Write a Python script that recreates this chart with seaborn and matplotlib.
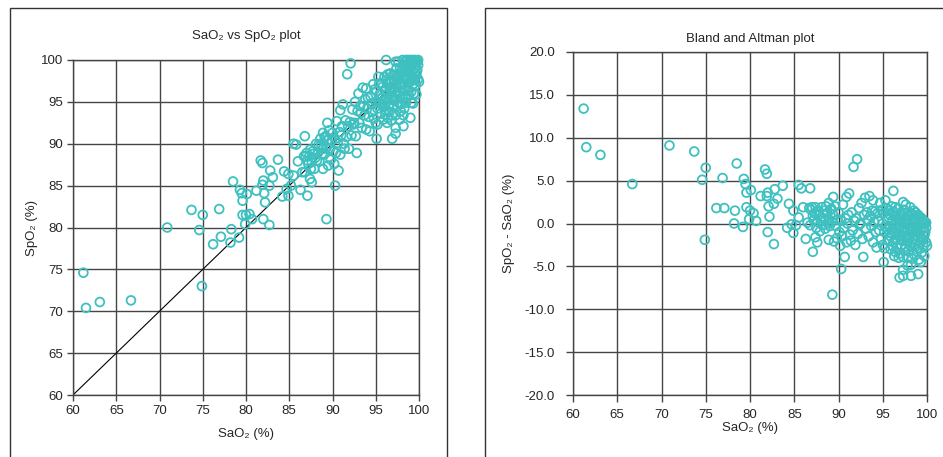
import pandas as pd
import numpy as np
import matplotlib.pyplot as plt
import seaborn as sns
from matplotlib.patches import Rectangle

# SaO2 readings (%) and the SpO2 - SaO2 difference
sao2 = [61.2, 61.5, 63.1, 66.7, 70.9, 73.7, 75.0, 74.6, 76.9, 74.9, 76.2, 77.1, 78.3, 78.2,
        78.5, 79.3, 79.5, 79.6, 80.1, 79.6, 80.0, 80.4, 79.9, 80.7, 79.2, 81.2, 81.7, 81.9,
        81.9, 82.0, 82.1, 82.2, 82.7, 82.0, 82.7, 82.8, 83.1, 83.7, 84.4, 84.2, 84.9, 84.9,
        85.2, 84.7, 85.5, 85.8, 86.8, 86.0, 85.5, 86.3, 87.1, 87.4, 87.6, 88.9, 89.4, 89.3,
        88.9, 90.2, 90.3, 90.7, 90.9, 91.2, 91.7, 92.1, 92.6, 92.8, 93.5, 93.9, 95.3, 96.2,
        95.1, 95.2, 96.3, 96.9, 97.3, 98.2, 99.0, 97.8, 98.3, 100.0, 99.7, 97.3,
        86.5, 86.7, 86.9, 86.8, 87.0, 87.1, 87.3, 87.2, 87.5, 87.4, 87.6, 87.8, 87.7, 87.9,
        88.0, 88.1, 88.2, 88.3, 88.4, 88.5, 88.6, 88.8, 88.7, 88.9, 89.0, 89.1, 89.2, 89.3,
        89.5, 89.4, 89.6, 89.7, 89.8, 89.9, 90.0, 90.1, 90.3, 90.4, 90.5, 90.6, 90.8, 90.9,
        91.0, 91.1, 91.3, 91.4, 91.5, 91.6, 91.8, 91.9, 92.0, 92.2, 92.3, 92.4, 92.5, 92.7,
        92.9, 93.0, 93.1, 93.2, 93.3, 93.4, 93.6, 93.7, 93.8, 93.9, 94.0, 94.1, 94.2, 94.3,
        94.4, 94.5, 94.6, 94.7, 94.8, 94.9, 95.0, 95.0, 95.1, 95.2, 95.4, 95.5, 95.5, 95.6,
        95.7, 95.8, 95.9, 95.9, 96.0, 96.1, 96.2, 96.2, 96.3, 96.4, 96.5, 96.5, 96.6, 96.7,
        96.7, 96.8, 96.8, 96.9, 97.0, 97.0, 97.1, 97.1, 97.2, 97.2, 97.3, 97.3, 97.4, 97.4,
        97.5, 97.5, 97.6, 97.6, 97.7, 97.7, 97.8, 97.8, 97.9, 97.9, 98.0, 98.0, 98.1, 98.1,
        98.2, 98.2, 98.3, 98.3, 98.4, 98.4, 98.5, 98.5, 98.6, 98.6, 98.7, 98.7, 98.8, 98.8,
        98.9, 98.9, 99.0, 99.0, 99.1, 99.1, 99.2, 99.2, 99.3, 99.3, 99.4, 99.4, 99.5, 99.5,
        99.6, 99.6, 99.7, 99.8, 99.8, 99.9, 99.9, 99.3,
        96.0, 96.3, 96.6, 96.9, 97.2, 97.5, 97.8, 98.1, 98.4, 98.7, 99.0, 99.3, 99.6, 99.9,
        96.4, 97.0, 97.6, 98.2, 98.8, 99.4, 95.7, 96.1, 96.8, 97.9, 98.5, 99.1, 99.7, 95.3,
        95.8, 96.5]
diff = [13.4, 8.9, 8.0, 4.6, 9.1, 8.4, 6.5, 5.1, 5.3, -1.9, 1.8, 1.8, 1.5, 0.0,
        7.0, 5.2, 4.6, 3.6, 3.9, 1.9, 1.5, 1.2, 0.5, 0.3, -0.4, 3.2, 6.3, 5.8,
        3.2, 3.6, 2.0, 0.8, 2.3, -1.0, -2.4, 4.0, 2.9, 4.4, 2.3, -0.5, 1.5, -1.1,
        -0.2, -0.1, 4.5, 4.1, 4.1, 1.9, 0.7, -1.8, -3.3, -1.6, -2.2, 2.4, 3.1, -8.3,
        -1.9, -2.6, -5.3, -3.9, 3.1, 3.5, 6.6, 7.5, 2.4, -3.9, 3.2, 2.7, 2.7, 3.8,
        -4.5, -2.9, -3.8, -6.3, -6.1, -6.1, -5.9, -4.9, -4.1, -2.6, 0.2, -5.4,
        0.1, 1.8, 1.6, -0.2, 1.9, 0.9, 1.2, 0.4, -0.5, 1.9, 0.2, 1.0, 1.4, -0.9,
        0.3, 1.9, -0.2, 0.6, 1.5, -0.6, 2.0, 0.0, 1.2, 0.5, -0.3, 1.6, 1.7, 0.2,
        -2.1, 1.0, 2.0, -0.3, -1.7, 0.5, 1.3, -1.0, 0.3, -1.5, 2.2, -0.5, 0.6, -2.2,
        0.0, 1.0, -1.3, -2.0, 1.3, -0.8, 0.3, -2.5, 0.6, -1.2, 1.8, -0.1, 0.0, -1.8,
        1.0, 3.0, -0.6, 1.3, 0.4, -1.5, 0.9, -0.3, 1.5, -2.2, 0.2, 1.4, -1.0, -2.8,
        1.2, 0.3, -0.8, 2.4, -1.8, 1.6, 0.0, -2.5, 1.2, -1.0, 1.8, -0.7, 0.5, -2.0,
        -0.3, 1.0, -3.0, -1.5, 2.0, 0.4, -2.2, 1.4, -0.9, -3.3, 0.9, -1.2, -2.8, 1.7,
        -0.2, -0.6, 0.5, -3.5, -1.8, 1.2, 0.2, -2.5, 1.0, -1.0, 2.5, -3.9, -0.4, 1.6,
        -1.5, -3.0, 0.6, 2.2, 0.0, -2.0, 1.2, -0.8, -4.0, -3.2, 0.8, -1.3, 1.9, -2.6,
        -0.3, -4.8, -0.6, 1.0, -1.9, 0.4, -3.6, 1.5, 0.2, -1.0, 1.3, -2.4, -3.0, -0.3,
        -0.8, 0.9, -1.6, 1.0, -2.9, -4.2, 0.5, -1.2, 0.7, -2.2, -0.4, -3.4, 0.5, -1.8,
        -0.6, -2.6, -3.8, 0.0, -1.0, -0.5, -2.2, -4.5,
        -0.8, 0.9, 0.1, -1.4, -2.0, 0.3, -1.6, -0.9, -2.7, 0.6, -0.2, -1.7, 0.3, 0.1,
        1.9, -0.3, -2.7, 1.2, -1.5, 0.2, 1.5, -2.6, -4.0, 0.5, -0.5, 0.3, -1.4, -0.4,
        -1.1, -1.9]

pct_ticks = [60, 65, 70, 75, 80, 85, 90, 95, 100]
diff_ticks = [-20, -15, -10, -5, 0, 5, 10, 15, 20]

df = pd.DataFrame({'SaO2': sao2, 'diff': diff})
df['SpO2'] = (df['SaO2'] + df['diff']).round(1)

sns.set_style('white')
plt.rcParams['font.family'] = ['Liberation Sans', 'DejaVu Sans']

teal = '#3ec0c0'
grid_c = '#454545'

fig = plt.figure(figsize=(9.43, 4.57), dpi=100)

# outer chart frames
fig.patches.append(Rectangle((10 / 943, -0.05), 437 / 943, 1.05 - 8 / 457, transform=fig.transFigure,
                             fill=False, ec='#333333', lw=1.0))
fig.patches.append(Rectangle((485 / 943, -0.05), 0.6, 1.05 - 8 / 457, transform=fig.transFigure,
                             fill=False, ec='#333333', lw=1.0))

ax1 = fig.add_axes([73 / 943, 1 - 395 / 457, 346 / 943, 335 / 457])
ax2 = fig.add_axes([573 / 943, 1 - 395 / 457, 354 / 943, 343 / 457])

for ax in (ax1, ax2):
    ax.grid(True, color=grid_c, lw=1.0)
    ax.set_axisbelow(True)
    for s in ax.spines.values():
        s.set_color(grid_c)
        s.set_linewidth(1.0)

marker_kw = dict(marker='o', s=40, facecolor='none', edgecolor=teal, linewidth=1.3,
                 zorder=3, clip_on=False)

# left: SaO2 vs SpO2 with line of identity
ax1.plot([pct_ticks[0], pct_ticks[-1]], [pct_ticks[0], pct_ticks[-1]], color='black', lw=0.8, zorder=1)
sns.scatterplot(data=df, x='SaO2', y='SpO2', ax=ax1, **marker_kw)
ax1.set_xlim(60, 100)
ax1.set_ylim(60, 100)
ax1.set_xticks(pct_ticks)
ax1.set_yticks(pct_ticks)
ax1.tick_params(axis='both', direction='out', length=4, width=1, color=grid_c,
                labelsize=9.5, pad=3, left=True, bottom=True)
ax1.set_title('SaO\u2082 vs SpO\u2082 plot', fontsize=9.5, pad=15)
ax1.set_xlabel('SaO\u2082 (%)', fontsize=9.5, labelpad=8)
ax1.set_ylabel('SpO\u2082 (%)', fontsize=9.5, labelpad=2)

# right: Bland and Altman
sns.scatterplot(data=df, x='SaO2', y='diff', ax=ax2, **marker_kw)
ax2.set_xlim(60, 100)
ax2.set_ylim(-20, 20)
ax2.set_xticks(pct_ticks)
ax2.set_yticks(diff_ticks)
ax2.set_yticklabels([f'{v:.1f}' for v in diff_ticks])
ax2.tick_params(axis='both', direction='out', length=5, width=1, color=grid_c,
                labelsize=9.5, left=True, bottom=True)
ax2.tick_params(axis='y', pad=8)
ax2.tick_params(axis='x', pad=5)
ax2.set_title('Bland and Altman plot', fontsize=9.5, pad=7)
ax2.set_xlabel('SaO\u2082 (%)', fontsize=9.5, labelpad=1)
ax2.set_ylabel('SpO\u2082 - SaO\u2082 (%)', fontsize=9.5, labelpad=7)

plt.savefig('out.png', dpi=100)
